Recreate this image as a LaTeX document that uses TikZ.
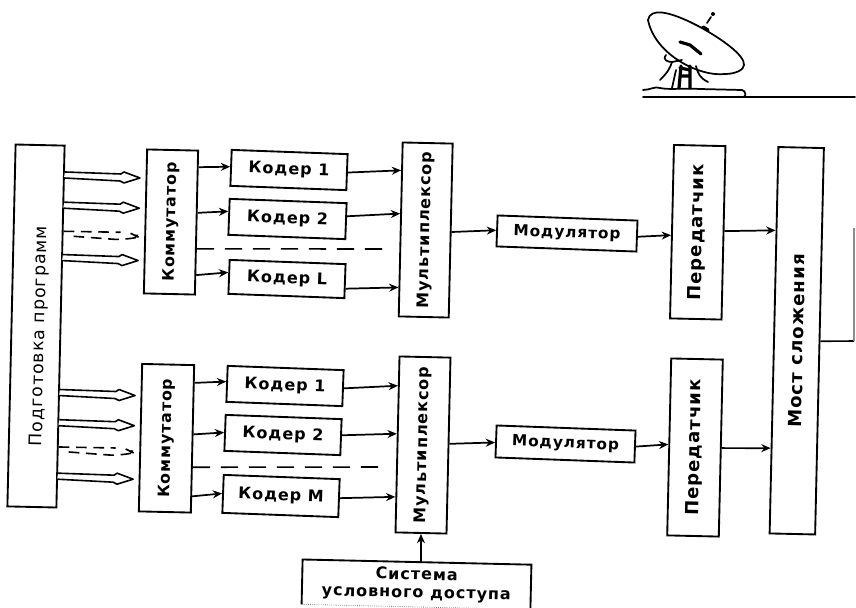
\documentclass[tikz,border=0pt]{standalone}
\usepackage{fontspec}
\usepackage{graphicx}
\setmainfont[LetterSpace=6]{DejaVu Sans}
\usetikzlibrary{calc,arrows.meta}
\newcommand{\Lp}[2]{($(#1.north west)!#2!(#1.south west)$)}
\newcommand{\Rp}[2]{($(#1.north east)!#2!(#1.south east)$)}
\newcommand{\bx}[7][]{\node[boxnode,#1,minimum width={(#5-#3)*0.75pt},minimum height={(#6-#4)*0.75pt}] (#2) at ({(#3+#5)/2},{(#4+#6)/2}) {#7};}
\newcommand{\vt}[1]{\rotatebox{90}{#1}}
\newcommand{\fs}[1]{\fontsize{#1}{12}\selectfont\bfseries}
\newcommand{\wire}[4]{\draw[conn] \Rp{#1}{#2} -- \Lp{#3}{#4};}
\newcommand{\harrow}[1]{\draw[hollow] #1 -- ++(56,2) -- ++(3,-2) -- ++(16,6) -- ++(-16,5) -- ++(-4,-2) -- ++(-56,-3);}
\newcommand{\dwave}[1]{\draw[wavy] #1 -- ++(57,1) ++(10,1) -- ++(8,4) ++(-65,-1) -- ++(40,3) .. controls ++(8,1) and ++(16,1) .. ++(22,-4);}
\tikzset{
  boxnode/.style={draw=black,line width=1.4pt,fill=white,rotate=-1.3,inner sep=0pt,align=center,font=\fs{12}},
  coder/.style={rotate=-.8,font=\fs{12}},
  modbox/.style={rotate=-.8,font=\fs{11.5}},
  conn/.style={line width=1.3pt,-{Stealth[length=7pt,width=6pt]}},
  hollow/.style={line width=1.2pt,fill=white,line join=round},
  wavy/.style={line width=1.2pt,dash pattern=on 8pt off 5pt},
  dashlink/.style={line width=1.2pt,dash pattern=on 13pt off 8pt},
  thinline/.style={line width=1.3pt,line cap=round,line join=round},
  thickline/.style={line width=2.4pt,line cap=round,line join=round},
}
\begin{document}
\begin{tikzpicture}[x=0.75pt,y=-0.75pt]
\useasboundingbox (0,0) rectangle (856,607);
% antenna
\draw[thinline] (648,20) .. controls (650,8) and (668,10) .. (700,27) .. controls (720,38) and (745,55) .. (744,65);
\draw[thinline] (648,20) .. controls (655,55) and (700,77) .. (725,74) .. controls (735,74) and (744,70) .. (744,65);
\draw[thickline] (680,42) -- (690,45) -- (701,54);
\draw[thickline] (703,27) -- (708,30);
\draw[thinline] (707,23) -- (711,17);
\fill (713,14) circle (1.5pt);
\draw[thinline] (666,55) .. controls (662,60) and (668,62) .. (672,62) .. controls (670,68) and (668,72) .. (660,80);
\draw[thinline] (672,62) -- (682,60);
\draw[thickline] (681,66) -- (679,88) (690,66) -- (690,88) (680,76) -- (690,76) (680,68) -- (690,70);
\draw[thinline] (696,66) .. controls (698,74) and (700,78) .. (708,82);
\draw[thinline] (676,70) -- (672,88);
\draw[thinline] (643,90) .. controls (650,90) and (655,86) .. (660,88) .. controls (670,90) and (680,88) .. (700,89) -- (742,90) .. controls (746,91) and (746,96) .. (744,97);
\draw[thinline] (643,97) -- (855,97);
% boxes
\bx[font=\fontsize{13}{14}\selectfont]{prep}{11.5}{145}{60.5}{507}{\hspace*{6pt}\vt{Подготовка программ\hspace*{15pt}}}
\bx[font=\fs{11.8}]{kma}{145.5}{150}{196.5}{294}{\vt{Коммутатор}}
\bx[coder]{ka}{231}{152}{347}{188}{Кодер 1}
\bx[coder]{kb}{229}{201}{346}{237}{Кодер 2}
\bx[coder]{kl}{229}{262}{345}{296}{Кодер L}
\bx[font=\fs{12}]{muxa}{400.7}{143}{450.7}{317}{\vt{Мультиплексор}}
\bx[modbox]{moda}{497}{218}{637}{249}{Модулятор}
\bx[font=\fs{13.5}]{pera}{672}{145.5}{723.5}{319}{\vt{Передатчик}}
\bx[font=\fs{13.6}]{most}{774}{147.5}{819.5}{534}{\vt{Мост сложения}}
\bx[font=\fs{11.8}]{kmb}{140.5}{364.5}{192.5}{512}{\vt{Коммутатор}}
\bx[coder]{kc}{227}{368}{343}{404}{Кодер 1}
\bx[coder]{kd}{225}{417}{341}{453}{Кодер 2}
\bx[coder]{km}{223}{477}{339}{515}{Кодер М}
\bx[font=\fs{12}]{muxb}{397.5}{357}{448.5}{533}{\vt{Мультиплексор}}
\bx[modbox]{modb}{496}{428}{635}{460}{Модулятор}
\bx[font=\fs{13.5}]{perb}{669.2}{359}{720.8}{536}{\vt{Передатчик}}
\bx[draw=none,rotate=0,font=\fs{12}]{sys}{303}{563}{530}{606}{Система\\[1.5pt]условного доступа}
\draw[line width=1.4pt] (sys.south west) -- (sys.north west) -- (sys.north east) -- (sys.south east);
\draw[line width=.6pt,gray,densely dotted] (sys.south west) -- (sys.south east);
% connectors, upper chain
\wire{kma}{.12}{ka}{.47}
\wire{kma}{.433}{kb}{.355}
\wire{kma}{.86}{kl}{.376}
\wire{ka}{.51}{muxa}{.164}
\wire{kb}{.37}{muxa}{.41}
\wire{kl}{.71}{muxa}{.83}
\wire{muxa}{.508}{moda}{.48}
\wire{moda}{.52}{pera}{.52}
\wire{pera}{.49}{most}{.217}
\coordinate (da) at (390,249);
\draw[dashlink] \Rp{kma}{.68} -- (da);
% connectors, lower chain
\wire{kmb}{.125}{kc}{.44}
\wire{kmb}{.47}{kd}{.49}
\wire{kmb}{.885}{km}{.49}
\wire{kc}{.505}{muxb}{.17}
\wire{kd}{.45}{muxb}{.44}
\wire{km}{.5}{muxb}{.795}
\wire{muxb}{.49}{modb}{.53}
\wire{modb}{.5}{perb}{.486}
\wire{perb}{.5}{most}{.778}
\coordinate (db) at (388,467);
\draw[dashlink] \Rp{kmb}{.69} -- (db);
\draw[conn] (muxb.south |- sys.north) -- (muxb.south);
% hollow arrows
\harrow{\Rp{prep}{.075}}
\harrow{\Rp{prep}{.158}}
\dwave{\Rp{prep}{.238}}
\harrow{\Rp{prep}{.302}}
\harrow{\Rp{prep}{.673}}
\harrow{\Rp{prep}{.756}}
\dwave{\Rp{prep}{.831}}
\harrow{\Rp{prep}{.903}}
% output of the bridge
\coordinate (oa) at (854,341);
\coordinate (ob) at (854,228);
\draw[line width=1.2pt] \Rp{most}{.5} -- (oa);
\draw[line width=1pt,black!45] (oa) -- (ob);
\end{tikzpicture}
\end{document}
